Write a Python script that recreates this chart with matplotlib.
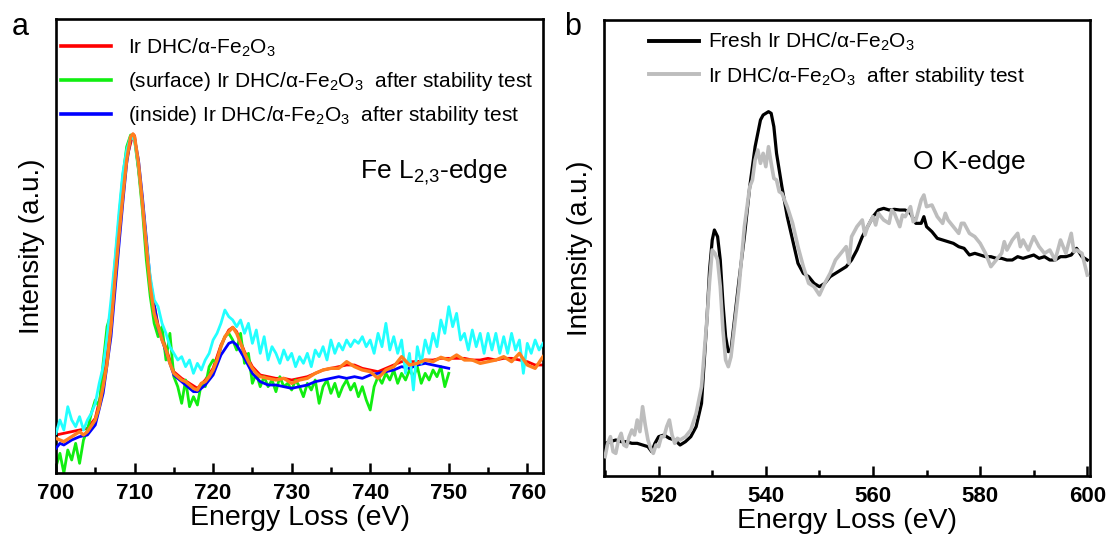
import numpy as np
import matplotlib
matplotlib.use("Agg")
import matplotlib.pyplot as plt
from matplotlib.ticker import MultipleLocator

plt.rcParams['font.family'] = ['Liberation Sans', 'DejaVu Sans']
plt.rcParams['mathtext.fontset'] = 'custom'
plt.rcParams['mathtext.rm'] = 'Liberation Sans'
plt.rcParams['mathtext.it'] = 'Liberation Sans'
plt.rcParams['mathtext.default'] = 'regular'

# ---------------- Panel a : Fe L2,3-edge ----------------
labels_a = [r"Ir DHC/α-Fe$_2$O$_3$",
            r"(surface) Ir DHC/α-Fe$_2$O$_3$  after stability test",
            r"(inside) Ir DHC/α-Fe$_2$O$_3$  after stability test"]

red_pts = [(700, 11.4), (701, 11.9), (702, 12.4), (703, 12.9), (704, 13.4), (705, 16.4), (706, 26.4),
           (707, 44.4), (708, 71.4), (709, 94.4), (709.8, 101.7), (710, 101.2), (711, 81.4), (712, 56.4),
           (713, 44.4), (714, 37.4), (715, 30.4), (716, 28.4), (717, 26.9), (718, 25.4), (719, 27.9),
           (720, 31.4), (721, 38.4), (722, 42.9), (722.5, 43.7), (723, 42.4), (724, 36.4), (725, 31.9),
           (726, 29.4), (727, 28.9), (728, 28.4), (729, 28.4), (730, 27.9), (731, 28.4), (732, 28.9),
           (733, 29.9), (734, 30.9), (735, 31.4), (736, 31.9), (737, 32.4), (738, 32.4), (739, 31.4),
           (740, 30.9), (741, 30.4), (742, 31.4), (743, 32.4), (744, 33.4), (745, 33.4), (746, 33.4),
           (747, 33.9), (748, 33.9), (749, 34.4), (750, 34.4), (751, 34.4), (752, 34.4), (753, 33.9),
           (754, 33.9), (755, 34.4), (756, 33.9), (757, 34.4), (758, 34.4), (759, 33.9), (760, 33.4),
           (761, 32.4), (762, 32.4)]

blue_pts = [(700, 7.4), (700.5, 8.9), (701, 8.4), (702, 9.9), (703, 10.9), (704, 11.4), (705, 14.4),
            (706, 23.9), (707, 40.9), (708, 67.9), (708.5, 80.9), (709, 92.9), (709.5, 100.4), (710, 100.4),
            (710.5, 93.9), (711, 82.9), (712, 57.9), (713, 43.4), (714, 36.4), (715, 29.4), (716, 27.4),
            (717, 25.4), (717.5, 24.4), (718, 24.4), (719, 26.4), (720, 29.4), (721, 35.4), (722, 38.9),
            (722.5, 39.4), (723, 38.4), (724, 34.4), (725, 29.9), (726, 27.4), (727, 26.4), (728, 26.4),
            (729, 25.9), (730, 25.4), (731, 25.9), (732, 26.4), (733, 27.4), (734, 27.9), (735, 28.4),
            (736, 28.9), (737, 28.4), (738, 28.9), (739, 28.4), (740, 29.4), (741, 29.9), (742, 30.4),
            (743, 30.9), (744, 31.9), (745, 31.4), (746, 32.4), (747, 32.9), (748, 32.4), (749, 31.9),
            (750, 31.4)]

green_E = np.arange(700, 750.01, 0.5)
green_I = [1.9, 5.9, 0.0, 6.9, 3.9, 8.9, 2.9, 9.9, 12.9, 17.9,
           21.9, 19.9, 32.9, 43.9, 47.9, 62.9, 75.9, 88.9, 97.9, 101.4,
           99.9, 90.9, 78.9, 63.9, 52.9, 44.9, 40.9, 43.9, 33.9, 41.9,
           28.9, 25.9, 20.9, 27.9, 19.9, 22.9, 20.4, 26.9, 25.9, 31.9,
           33.9, 32.9, 37.9, 40.9, 41.9, 39.9, 36.9, 41.9, 32.9, 35.9,
           26.9, 29.9, 25.9, 28.9, 25.9, 27.9, 24.4, 28.9, 25.9, 26.9,
           24.9, 27.9, 25.9, 22.9, 26.9, 24.9, 27.9, 20.9, 25.9, 27.9,
           23.9, 26.9, 22.9, 25.9, 27.9, 24.9, 26.9, 22.9, 25.9, 21.9,
           18.9, 25.9, 28.9, 26.9, 29.9, 27.9, 30.9, 26.9, 29.9, 27.9,
           30.9, 28.9, 31.9, 26.9, 29.9, 27.9, 30.9, 28.9, 31.9, 25.9,
           29.9]

cyan_E = np.arange(700, 762.01, 0.5)
cyan_I = [11.9, 15.9, 12.9, 19.9, 15.9, 13.9, 16.9, 12.9, 15.9, 17.9,
          20.9, 26.9, 31.9, 40.9, 51.9, 63.9, 77.9, 89.9, 96.9, 100.9,
          99.9, 91.9, 80.9, 68.9, 58.9, 51.9, 49.9, 44.9, 41.9, 37.9,
          35.9, 33.9, 34.9, 31.9, 33.9, 29.9, 32.9, 30.9, 33.9, 35.9,
          39.9, 41.9, 44.9, 48.9, 46.9, 45.9, 43.9, 45.9, 41.9, 44.9,
          38.9, 42.9, 35.9, 40.9, 33.9, 37.9, 35.9, 32.9, 36.9, 33.9,
          35.9, 31.9, 34.9, 32.9, 35.9, 31.9, 36.9, 34.9, 37.9, 33.9,
          39.9, 35.9, 38.9, 36.9, 39.9, 37.9, 39.9, 38.9, 40.9, 37.9,
          39.9, 35.9, 41.9, 37.9, 44.9, 36.9, 40.9, 35.9, 39.9, 29.9,
          35.9, 24.9, 37.9, 32.9, 39.9, 35.9, 41.9, 37.9, 45.9, 41.9,
          49.9, 43.9, 47.9, 39.9, 41.9, 36.9, 42.9, 37.9, 41.9, 35.9,
          41.9, 36.9, 41.9, 35.9, 40.9, 35.9, 41.9, 36.9, 39.9, 29.9,
          38.9, 35.9, 39.9, 36.9, 38.9]

orange_pts = [(700, 10.4), (701, 9.4), (702, 10.9), (703, 12.4), (703.5, 11.4), (704, 12.4), (705, 15.9),
              (705.5, 19.9), (706, 25.9), (706.5, 32.9), (707, 43.9), (707.5, 57.9), (708, 70.9),
              (708.5, 82.9), (709, 93.9), (709.5, 100.9), (709.8, 101.7), (710, 100.9), (710.5, 92.9),
              (711, 80.9), (711.5, 67.9), (712, 55.9), (712.5, 47.9), (713, 43.9), (713.5, 39.9),
              (714, 36.9), (714.5, 32.9), (715, 29.9), (715.5, 28.9), (716, 27.9), (716.5, 27.4),
              (717, 26.4), (717.5, 25.4), (718, 24.9), (718.5, 26.9), (719, 27.4), (719.5, 28.9),
              (720, 30.9), (720.5, 33.9), (721, 37.9), (721.5, 40.9), (722, 42.4), (722.5, 43.7),
              (723, 41.9), (723.5, 38.9), (724, 35.9), (724.5, 33.4), (725, 31.4), (725.5, 29.9),
              (726, 28.9), (727, 28.4), (728, 27.9), (729, 28.4), (730, 26.9), (731, 27.9), (732, 28.4),
              (733, 29.9), (734, 30.9), (735, 31.4), (736, 31.4), (737, 33.4), (738, 31.9), (739, 30.9),
              (740, 30.4), (741, 28.4), (742, 30.9), (743, 31.9), (744, 34.9), (745, 32.4), (746, 32.9),
              (747, 33.9), (748, 33.4), (749, 34.7), (750, 33.9), (751, 35.4), (752, 33.9), (753, 33.9),
              (754, 32.9), (755, 33.4), (756, 33.9), (757, 34.9), (758, 33.4), (759, 35.9), (760, 32.4),
              (761, 31.4), (762, 34.9)]

# ---------------- Panel b : O K-edge ----------------
labels_b = [r"Fresh Ir DHC/α-Fe$_2$O$_3$", r"Ir DHC/α-Fe$_2$O$_3$  after stability test"]

fresh_pts = [(510, 9.5), (511, 10.0), (512, 10.5), (513, 10.0), (514, 10.0), (515, 9.5), (516, 9.5),
             (517, 9.0), (518, 8.5), (518.7, 7.0), (519.3, 9.5), (520, 11.5), (521, 12.0), (522, 11.0),
             (523, 10.5), (524, 9.0), (525, 10.0), (526, 11.5), (527, 14.5), (528, 21.5), (529, 46.5),
             (529.5, 61.5), (530, 70.5), (530.4, 73.5), (531, 71.5), (531.5, 64.5), (532, 51.5),
             (532.5, 41.5), (533, 37.0), (533.5, 37.5), (534, 44.5), (535, 58.5), (536, 71.5),
             (537, 86.5), (538, 98.5), (539, 106.5), (539.5, 108.0), (540, 108.5), (540.5, 109.0),
             (541, 108.5), (541.5, 104.5), (542, 96.5), (543, 86.5), (544, 77.5), (545, 70.5),
             (546, 63.5), (547, 60.5), (548, 59.5), (549, 57.5), (550, 56.5), (551, 57.5), (552, 59.5),
             (553, 60.5), (554, 61.5), (555, 62.5), (556, 64.5), (557, 67.5), (558, 71.5), (559, 74.5),
             (560, 77.5), (561, 79.5), (562, 80.0), (563, 79.5), (564, 79.7), (565, 79.5), (566, 79.5),
             (567, 78.5), (568, 75.5), (569, 75.5), (569.5, 77.5), (570, 74.5), (571, 73.0), (572, 71.0),
             (573, 70.5), (574, 70.0), (575, 69.5), (576, 68.5), (577, 68.0), (578, 66.0), (579, 66.5),
             (580, 66.0), (581, 65.5), (582, 65.5), (583, 65.0), (584, 65.0), (585, 64.5), (586, 64.5),
             (587, 65.5), (588, 65.0), (589, 65.5), (590, 66.0), (591, 65.0), (592, 65.5), (593, 64.5),
             (594, 64.5), (595, 65.5), (596, 65.5), (597, 66.0), (598, 68.0), (599, 65.5), (600, 64.5)]

after_pts = [(510, 5.5), (510.5, 9.5), (511, 11.5), (511.5, 7.0), (512, 6.5), (512.5, 10.5), (513, 12.5),
             (513.5, 9.0), (514, 8.5), (514.5, 11.5), (515, 13.5), (515.5, 12.0), (516, 16.5),
             (516.5, 13.0), (517, 20.5), (517.5, 15.0), (518, 10.5), (518.5, 8.0), (519, 6.5),
             (519.5, 9.0), (520, 8.5), (520.5, 11.5), (521, 11.5), (521.5, 14.5), (522, 16.5),
             (522.5, 12.0), (523, 9.5), (523.5, 11.0), (524, 10.5), (525, 11.5), (526, 13.5),
             (527, 18.5), (528, 26.5), (529, 46.5), (529.5, 58.0), (530, 67.5), (530.5, 66.5),
             (531, 64.5), (531.5, 56.5), (532, 43.5), (532.5, 34.5), (533, 32.5), (533.5, 35.5),
             (534, 42.5), (535, 56.5), (536, 74.5), (537, 86.5), (537.5, 88.5), (538, 94.5),
             (538.5, 97.5), (539, 93.5), (539.5, 96.5), (540, 92.5), (540.5, 98.5), (541, 93.5),
             (541.5, 89.0), (542, 88.5), (542.5, 85.0), (543, 84.5), (544, 80.5), (545, 75.5),
             (546, 68.5), (547, 62.5), (548, 57.5), (549, 56.5), (550, 54.0), (551, 57.5), (552, 60.5),
             (553, 64.5), (554, 66.5), (555, 68.5), (555.5, 63.5), (556, 71.5), (557, 74.5),
             (558, 76.5), (558.5, 72.0), (559, 74.5), (560, 77.5), (560.5, 75.0), (561, 78.5),
             (562, 76.5), (563, 75.5), (563.5, 79.5), (564, 78.5), (565, 74.5), (565.5, 78.0),
             (566, 77.5), (567, 80.5), (567.5, 76.0), (568, 76.5), (569, 82.5), (569.5, 84.0),
             (570, 80.5), (571, 81.0), (572, 77.5), (573, 75.5), (573.5, 78.5), (574, 76.5),
             (575, 74.5), (576, 72.5), (576.5, 75.5), (577, 75.5), (578, 72.5), (579, 71.5),
             (580, 69.5), (581, 66.5), (582, 62.5), (583, 64.5), (584, 66.5), (584.5, 70.0),
             (585, 67.5), (586, 70.5), (587, 72.5), (587.5, 68.5), (588, 70.5), (589, 67.5),
             (590, 71.5), (591, 68.5), (592, 66.5), (593, 67.5), (594, 64.5), (595, 70.5), (596, 66.5),
             (597, 72.5), (597.5, 67.0), (598, 67.5), (599, 66.5), (600, 60.0)]

# ---------------- Figure ----------------
fig = plt.figure(figsize=(11.1, 5.4), dpi=100)
ax1 = fig.add_axes([56/1110, 67/540, 487/1110, 454/540])
ax2 = fig.add_axes([604/1110, 64/540, 486/1110, 456/540])

def xy(pts):
    e, i = zip(*pts)
    return np.array(e), np.array(i)

lw = 2.0
ax1.plot(*xy(red_pts), color='#ff0000', lw=lw, label=labels_a[0], zorder=2)
ax1.plot(green_E, green_I, color='#11ee11', lw=lw, label=labels_a[1], zorder=2)
ax1.plot(*xy(blue_pts), color='#0000ff', lw=lw, label=labels_a[2], zorder=3)
ax1.plot(cyan_E, cyan_I, color='#22ffff', lw=lw, zorder=3)
ax1.plot(*xy(orange_pts), color='#ff7f1e', lw=2.4, zorder=4)

ax2.plot(*xy(fresh_pts), color='black', lw=2.3, label=labels_b[0], zorder=2)
ax2.plot(*xy(after_pts), color='#bdbdbd', lw=2.6, label=labels_b[1], zorder=3)

ax1.set_xlim(700, 762)
ax1.set_ylim(0, 136.2)
ax2.set_xlim(509.8, 600.5)
ax2.set_ylim(-0.3, 136.5)

for ax, maj, mnr in ((ax1, 10, 5), (ax2, 20, 10)):
    ax.xaxis.set_major_locator(MultipleLocator(maj))
    ax.xaxis.set_minor_locator(MultipleLocator(mnr))
    ax.set_yticks([])
    ax.tick_params(axis='x', which='major', direction='in', length=7, width=1.8, pad=7,
                   labelsize=16)
    ax.tick_params(axis='x', which='minor', direction='in', length=4.5, width=1.8)
    for lab in ax.get_xticklabels():
        lab.set_fontweight('bold')
    for s in ax.spines.values():
        s.set_linewidth(1.9)
    ax.set_xlabel('Energy Loss (eV)', fontsize=20.5, labelpad=1)
    ax.set_ylabel('Intensity (a.u.)', fontsize=20, labelpad=8)

leg1 = ax1.legend(loc='upper left', bbox_to_anchor=(0.010, 0.962), frameon=False, fontsize=15,
                  handlelength=2.4, handletextpad=0.8, labelspacing=0.55, borderpad=0,
                  borderaxespad=0)
for h in leg1.get_lines():
    h.set_linewidth(2.6)
leg2 = ax2.legend(loc='upper left', bbox_to_anchor=(0.0926, 0.976), frameon=False, fontsize=15,
                  handlelength=2.4, handletextpad=0.45, labelspacing=0.55, borderpad=0,
                  borderaxespad=0)
for h in leg2.get_lines():
    h.set_linewidth(2.8)

ax1.text(0.624, 0.663, r"Fe L$_{2{,}3}$-edge", transform=ax1.transAxes, fontsize=19,
         ha='left', va='center')
ax2.text(0.636, 0.689, "O K-edge", transform=ax2.transAxes, fontsize=19,
         ha='left', va='center')

fig.text(20/1110, 1 - 35/540, 'a', fontsize=22, ha='center', va='baseline')
fig.text(573/1110, 1 - 35/540, 'b', fontsize=22, ha='center', va='baseline')

fig.savefig('out.png', dpi=100)
